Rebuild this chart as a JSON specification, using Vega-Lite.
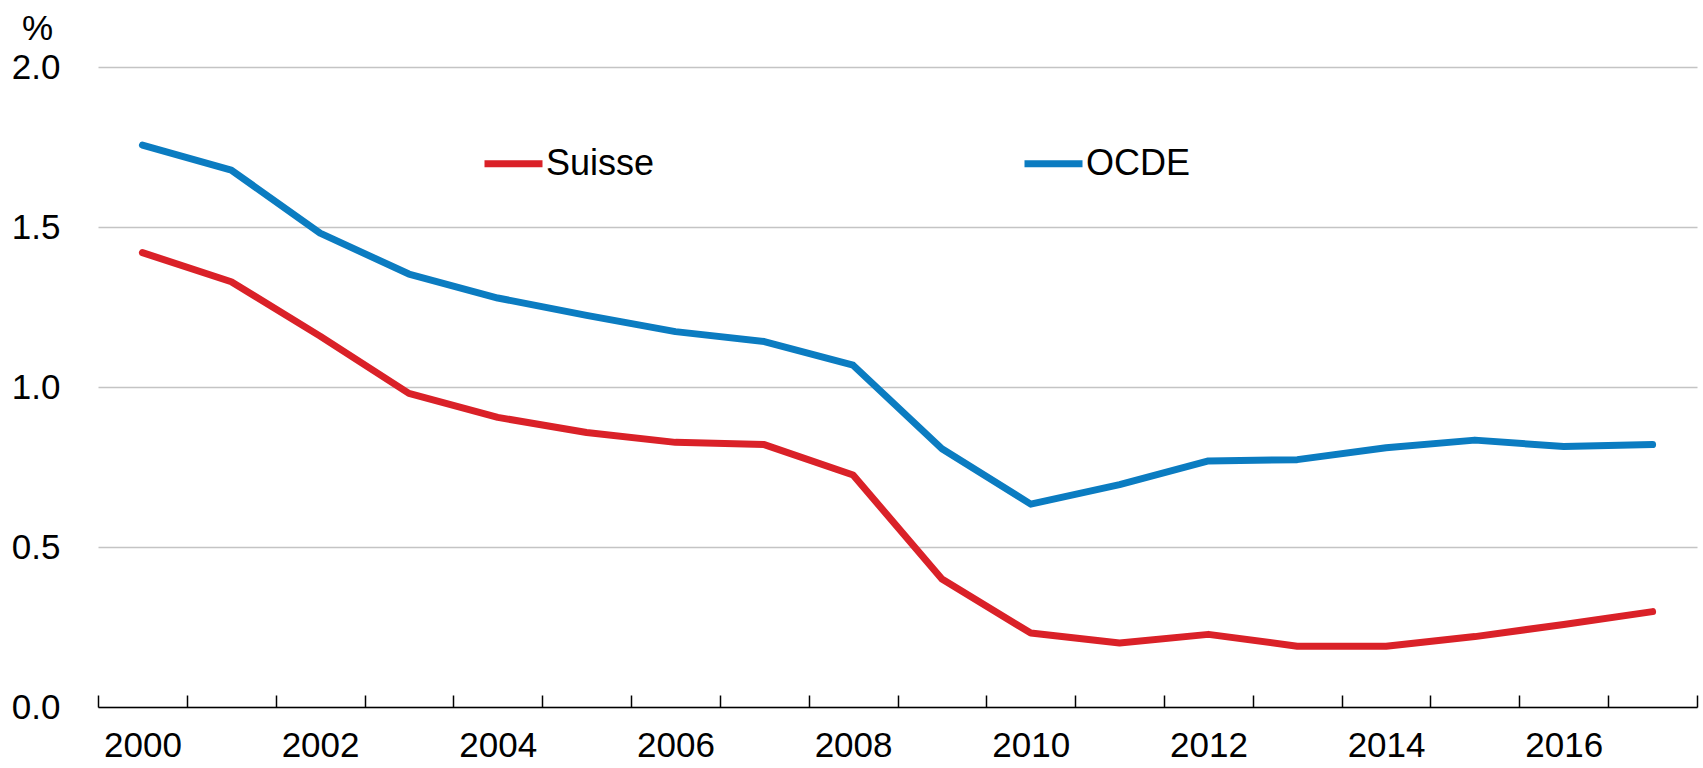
{
  "$schema": "https://vega.github.io/schema/vega-lite/v6.json",
  "autosize": "none",
  "width": 1599,
  "height": 640,
  "padding": {"left": 98, "top": 67, "right": 6, "bottom": 61},
  "background": "white",
  "config": {
    "font": "Liberation Sans",
    "view": {"stroke": null}
  },
  "data": {
    "values": [
      {"year": 2000, "series": "Suisse", "value": 1.420},
      {"year": 2001, "series": "Suisse", "value": 1.329},
      {"year": 2002, "series": "Suisse", "value": 1.159},
      {"year": 2003, "series": "Suisse", "value": 0.980},
      {"year": 2004, "series": "Suisse", "value": 0.905},
      {"year": 2005, "series": "Suisse", "value": 0.858},
      {"year": 2006, "series": "Suisse", "value": 0.827},
      {"year": 2007, "series": "Suisse", "value": 0.820},
      {"year": 2008, "series": "Suisse", "value": 0.725},
      {"year": 2009, "series": "Suisse", "value": 0.400},
      {"year": 2010, "series": "Suisse", "value": 0.231},
      {"year": 2011, "series": "Suisse", "value": 0.200},
      {"year": 2012, "series": "Suisse", "value": 0.227},
      {"year": 2013, "series": "Suisse", "value": 0.190},
      {"year": 2014, "series": "Suisse", "value": 0.190},
      {"year": 2015, "series": "Suisse", "value": 0.220},
      {"year": 2016, "series": "Suisse", "value": 0.258},
      {"year": 2017, "series": "Suisse", "value": 0.298},
      {"year": 2000, "series": "OCDE", "value": 1.756},
      {"year": 2001, "series": "OCDE", "value": 1.678},
      {"year": 2002, "series": "OCDE", "value": 1.481},
      {"year": 2003, "series": "OCDE", "value": 1.353},
      {"year": 2004, "series": "OCDE", "value": 1.278},
      {"year": 2005, "series": "OCDE", "value": 1.224},
      {"year": 2006, "series": "OCDE", "value": 1.173},
      {"year": 2007, "series": "OCDE", "value": 1.142},
      {"year": 2008, "series": "OCDE", "value": 1.068},
      {"year": 2009, "series": "OCDE", "value": 0.807},
      {"year": 2010, "series": "OCDE", "value": 0.634},
      {"year": 2011, "series": "OCDE", "value": 0.695},
      {"year": 2012, "series": "OCDE", "value": 0.769},
      {"year": 2013, "series": "OCDE", "value": 0.773},
      {"year": 2014, "series": "OCDE", "value": 0.810},
      {"year": 2015, "series": "OCDE", "value": 0.834},
      {"year": 2016, "series": "OCDE", "value": 0.814},
      {"year": 2017, "series": "OCDE", "value": 0.820}
    ]
  },
  "mark": {"type": "line", "strokeWidth": 7, "strokeCap": "round", "strokeJoin": "round"},
  "encoding": {
    "x": {
      "field": "year",
      "type": "ordinal",
      "bandPosition": 0.5,
      "scale": {"type": "band", "paddingInner": 0, "paddingOuter": 0},
      "axis": {
        "title": null,
        "labelAngle": 0,
        "labelExpr": "(+datum.value) % 2 == 0 ? datum.label : ''",
        "labelFontSize": 35,
        "labelColor": "black",
        "labelPadding": 33,
        "labelBaseline": "top",
        "domainColor": "black",
        "domainWidth": 1.5,
        "tickColor": "black",
        "tickWidth": 1.5,
        "tickSize": -12,
        "tickBand": "extent",
        "grid": false
      }
    },
    "y": {
      "field": "value",
      "type": "quantitative",
      "scale": {"domain": [0, 2], "nice": false},
      "axis": {
        "values": [0, 0.5, 1, 1.5, 2],
        "format": ".1f",
        "title": "%",
        "titleAngle": 0,
        "titleX": -61,
        "titleY": -39,
        "titleAlign": "center",
        "titleBaseline": "middle",
        "titleFontSize": 35,
        "titleFontWeight": "normal",
        "titleColor": "black",
        "labelFontSize": 35,
        "labelColor": "black",
        "labelPadding": 38,
        "domain": false,
        "ticks": false,
        "grid": true,
        "gridColor": "#c4c4c4",
        "gridWidth": 1.5
      }
    },
    "color": {
      "field": "series",
      "type": "nominal",
      "scale": {"domain": ["Suisse", "OCDE"], "range": ["#da2128", "#0b7cc1"]},
      "legend": {
        "title": null,
        "orient": "none",
        "legendX": 383,
        "legendY": 64,
        "direction": "horizontal",
        "symbolType": "stroke",
        "symbolSize": 3364,
        "symbolStrokeWidth": 7,
        "labelFontSize": 36,
        "labelColor": "black",
        "labelOffset": 0,
        "columnPadding": 355,
        "labelLimit": 400
      }
    }
  }
}
